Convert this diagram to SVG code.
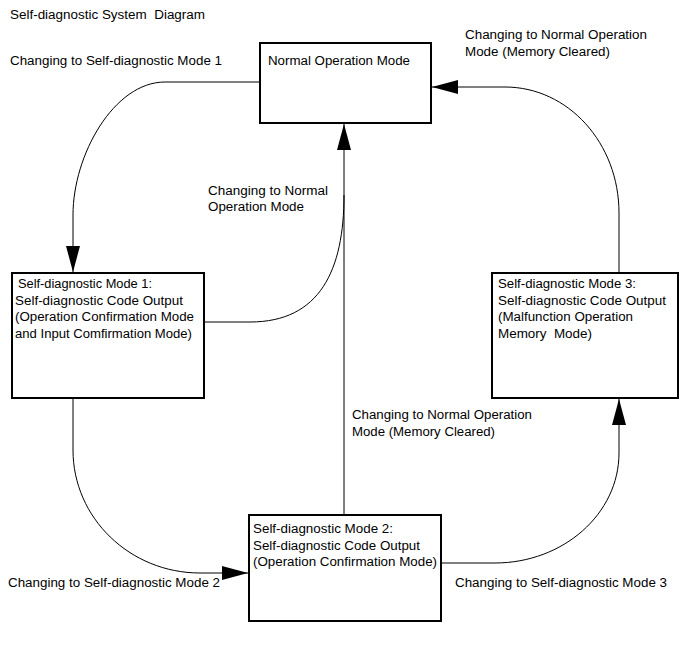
<svg xmlns="http://www.w3.org/2000/svg" width="690" height="659" viewBox="0 0 690 659">
<defs>
<style>
text{font-family:"Liberation Sans",Arial,sans-serif;font-size:12.5px;fill:#000;white-space:pre}
.box{fill:#fff;stroke:#000;stroke-width:2}
.con{fill:none;stroke:#000;stroke-width:1}
</style>
<marker id="ah" markerUnits="userSpaceOnUse" markerWidth="26" markerHeight="14" refX="26" refY="7" orient="auto">
<path d="M0,0 L26,7 L0,14 Z" fill="#000"/>
</marker>
</defs>
<rect width="690" height="659" fill="#fff"/>
<text x="10" y="19" textLength="195" lengthAdjust="spacingAndGlyphs" xml:space="preserve">Self-diagnostic System  Diagram</text>

<g id="connectors">
<path class="con" d="M260,82 L165,82 C114,82 73,155 73,215 L73,272" marker-end="url(#ah)"/>
<path class="con" d="M204,322 L250,322 C320,322 344,270 344,195"/>
<path class="con" d="M344,515 L344,124" marker-end="url(#ah)"/>
<path class="con" d="M73,398 L73,450 C73,518 130,573 200,573 L248,573" marker-end="url(#ah)"/>
<path class="con" d="M441,563 L495,563 C563,563 619,514 619,453 L619,399" marker-end="url(#ah)"/>
<path class="con" d="M619,273 L619,213 C619,143 568,87 505,87 L432,87" marker-end="url(#ah)"/>
</g>

<g id="label-to-mode1"><text x="10" y="65" textLength="212" lengthAdjust="spacingAndGlyphs">Changing to Self-diagnostic Mode 1</text></g>
<g id="label-to-normal-cleared-top">
<text x="465" y="39" textLength="182" lengthAdjust="spacingAndGlyphs">Changing to Normal Operation</text>
<text x="465" y="56" textLength="145" lengthAdjust="spacingAndGlyphs">Mode (Memory Cleared)</text>
</g>
<g id="label-to-normal">
<text x="208" y="195" textLength="120" lengthAdjust="spacingAndGlyphs">Changing to Normal</text>
<text x="208" y="211" textLength="96" lengthAdjust="spacingAndGlyphs">Operation Mode</text>
</g>
<g id="label-to-normal-cleared-center">
<text x="352" y="419" textLength="180" lengthAdjust="spacingAndGlyphs">Changing to Normal Operation</text>
<text x="352" y="436" textLength="143" lengthAdjust="spacingAndGlyphs">Mode (Memory Cleared)</text>
</g>
<g id="label-to-mode2"><text x="8" y="587" textLength="212" lengthAdjust="spacingAndGlyphs">Changing to Self-diagnostic Mode 2</text></g>
<g id="label-to-mode3"><text x="455" y="587" textLength="212" lengthAdjust="spacingAndGlyphs">Changing to Self-diagnostic Mode 3</text></g>

<g id="normal">
<rect class="box" x="260" y="43" width="171" height="80"/>
<text x="268" y="65" textLength="142" lengthAdjust="spacingAndGlyphs">Normal Operation Mode</text>
</g>
<g id="mode1">
<rect class="box" x="12" y="273" width="192" height="125"/>
<text x="18" y="288" textLength="134" lengthAdjust="spacingAndGlyphs">Self-diagnostic Mode 1:</text>
<text x="15" y="305" textLength="168" lengthAdjust="spacingAndGlyphs">Self-diagnostic Code Output</text>
<text x="15" y="321" textLength="179" lengthAdjust="spacingAndGlyphs">(Operation Confirmation Mode</text>
<text x="15" y="338" textLength="177" lengthAdjust="spacingAndGlyphs">and Input Comfirmation Mode)</text>
</g>
<g id="mode3">
<rect class="box" x="492" y="273" width="186" height="125"/>
<text x="498" y="288" textLength="138" lengthAdjust="spacingAndGlyphs">Self-diagnostic Mode 3:</text>
<text x="498" y="305" textLength="168" lengthAdjust="spacingAndGlyphs">Self-diagnostic Code Output</text>
<text x="498" y="321" textLength="135" lengthAdjust="spacingAndGlyphs">(Malfunction Operation</text>
<text x="498" y="338" textLength="94" lengthAdjust="spacingAndGlyphs" xml:space="preserve">Memory  Mode)</text>
</g>
<g id="mode2">
<rect class="box" x="249" y="515" width="192" height="106"/>
<text x="253" y="533" textLength="140" lengthAdjust="spacingAndGlyphs">Self-diagnostic Mode 2:</text>
<text x="253" y="550" textLength="167" lengthAdjust="spacingAndGlyphs">Self-diagnostic Code Output</text>
<text x="253" y="566" textLength="184" lengthAdjust="spacingAndGlyphs">(Operation Confirmation Mode)</text>
</g>
</svg>
